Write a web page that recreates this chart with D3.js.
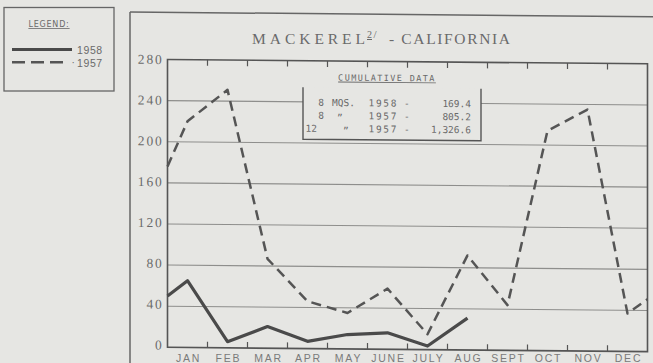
<!DOCTYPE html>
<html>
<head>
<meta charset="utf-8">
<script src="https://cdn.jsdelivr.net/npm/d3@7"></script>
<style>
  html, body { margin: 0; padding: 0; background: #e6e6e3; }
  svg { display: block; }
</style>
</head>
<body>
<svg id="chart" width="653" height="363"></svg>
<script>
// Monthly mackerel landings, California
const months = ["JAN", "FEB", "MAR", "APR", "MAY", "JUNE", "JULY", "AUG", "SEPT", "OCT", "NOV", "DEC"];
const yTicks = [0, 40, 80, 120, 160, 200, 240, 280];
const gridTicks = [40, 80, 120, 160, 200, 240];

// 1958 (Jan-Aug), with the carry-in value drawn at the left edge
const start1958 = 50;
const catch1958 = [65, 6, 21, 7, 14, 16, 3.5, 31];

// 1957 (Jan-Dec), with carry-in and carry-out values at the edges
const start1957 = 176;
const catch1957 = [220, 251, 87, 46, 35, 59, 15, 92, 44, 214, 235, 37];
const end1957 = 51;

const legendItems = ["1958", "1957"];
const cumulativeRows = [
  { count: "8", mark: "MQS.", year: "1958", total: "169.4" },
  { count: "8", mark: "\u201D", year: "1957", total: "805.2" },
  { count: "12", mark: "\u201D", year: "1957", total: "1,326.6" }
];

const ink = "#555555";
const textInk = "#6a6a6a";
const gridInk = "#8e8e8c";
const bg = "#e6e6e3";

const svg = d3.select("#chart");

// Plot geometry
const pL = 167.5, pR = 647.5, pT = 59.5, pB = 347.3;
const x = d3.scaleLinear().domain([0, 12]).range([pL, pR]);
const y = d3.scaleLinear().domain([0, 280]).range([pB, pT]);

// Outer sheet frame
svg.append("line").attr("x1", 130).attr("y1", 12).attr("x2", 653).attr("y2", 16.7)
  .attr("stroke", "#666").attr("stroke-width", 1.5);
svg.append("line").attr("x1", 130).attr("y1", 12).attr("x2", 130).attr("y2", 363)
  .attr("stroke", "#666").attr("stroke-width", 1.5);

// Legend box
const lg = svg.append("g");
lg.append("rect").attr("x", 4).attr("y", 7.5).attr("width", 110).attr("height", 83.5)
  .attr("fill", "none").attr("stroke", "#666").attr("stroke-width", 1.3);
lg.append("text").attr("x", 49).attr("y", 27)
  .attr("text-anchor", "middle").attr("font-family", "DejaVu Sans, sans-serif")
  .attr("font-size", 8).attr("letter-spacing", 0.8).attr("fill", textInk)
  .attr("text-decoration", "underline").text("LEGEND:");
lg.append("line").attr("x1", 12).attr("x2", 72).attr("y1", 49.5).attr("y2", 49.5)
  .attr("stroke", "#4a4a4a").attr("stroke-width", 3);
lg.append("line").attr("x1", 12).attr("x2", 66).attr("y1", 62.3).attr("y2", 62.3)
  .attr("stroke", ink).attr("stroke-width", 2.4).attr("stroke-dasharray", "13,6");
lg.selectAll("text.item").data(legendItems).join("text")
  .attr("class", "item")
  .attr("x", 77).attr("y", (d, i) => 54 + i * 12.5)
  .attr("font-family", "Liberation Sans, Arial, sans-serif")
  .attr("font-size", 10.5).attr("letter-spacing", 0.6).attr("fill", textInk)
  .text(d => d);
lg.append("text").attr("x", 71.5).attr("y", 66).attr("font-size", 10)
  .attr("fill", textInk).attr("font-family", "Liberation Sans, sans-serif").text("\u00B7");

// Title
const title = svg.append("g").attr("fill", textInk).attr("font-family", "Liberation Serif, serif");
title.append("text").attr("x", 252).attr("y", 43.5).attr("font-size", 15.5)
  .attr("textLength", 113).attr("lengthAdjust", "spacing").text("MACKEREL");
title.append("text").attr("x", 367).attr("y", 38).attr("font-size", 10)
  .attr("text-decoration", "underline").text("2");
title.append("text").attr("x", 373.5).attr("y", 38).attr("font-size", 11).text("/");
title.append("text").attr("x", 389).attr("y", 43.5).attr("font-size", 15.5)
  .attr("textLength", 121).attr("lengthAdjust", "spacing").text("- CALIFORNIA");

// The printed grid leans slightly downward to the right
const k = 0.009;
const plot = svg.append("g")
  .attr("transform", `matrix(1, ${k}, 0, 1, 0, ${-k * pL})`);

// Horizontal grid
plot.append("g").selectAll("line").data(gridTicks).join("line")
  .attr("x1", pL).attr("x2", pR)
  .attr("y1", d => y(d)).attr("y2", d => y(d))
  .attr("stroke", gridInk).attr("stroke-width", 1.1);

// Month boundary ticks, top and bottom
const bounds = d3.range(1, 12);
plot.append("g").selectAll("line").data(bounds).join("line")
  .attr("x1", d => x(d)).attr("x2", d => x(d))
  .attr("y1", pT).attr("y2", pT + 6)
  .attr("stroke", ink).attr("stroke-width", 1.2);
plot.append("g").selectAll("line").data(bounds).join("line")
  .attr("x1", d => x(d)).attr("x2", d => x(d))
  .attr("y1", pB).attr("y2", pB - 6)
  .attr("stroke", ink).attr("stroke-width", 1.2);

// Plot frame
plot.append("rect").attr("x", pL).attr("y", pT)
  .attr("width", pR - pL).attr("height", pB - pT)
  .attr("fill", "none").attr("stroke", ink).attr("stroke-width", 1.6);

// Y labels
plot.append("g").selectAll("text").data(yTicks).join("text")
  .attr("x", 163.5).attr("y", d => y(d) + 4.5 - (280 - d) * 0.008)
  .attr("text-anchor", "end")
  .attr("font-family", "Liberation Serif, serif").attr("font-size", 13.5)
  .attr("letter-spacing", 1.8).attr("fill", textInk)
  .text(d => d);

// Month labels along the bottom edge (unskewed so the row stays inside the sheet)
svg.append("g").selectAll("text").data(months).join("text")
  .attr("x", (d, i) => x(i + 0.5) + 1).attr("y", 361.5)
  .attr("text-anchor", "middle")
  .attr("font-family", "Liberation Sans, Arial, sans-serif").attr("font-size", 10.5)
  .attr("letter-spacing", 1.8).attr("fill", "#7a7a7a")
  .text(d => d);

// Cumulative data note
const note = plot.append("g").attr("font-family", "DejaVu Sans Mono, monospace")
  .attr("font-size", 9.5).attr("fill", textInk);
note.append("rect").attr("x", 303).attr("y", 86).attr("width", 178).attr("height", 52)
  .attr("fill", bg);
note.append("path").attr("d", "M303,86V138H481V86")
  .attr("fill", "none").attr("stroke", ink).attr("stroke-width", 1.4);
note.append("text").attr("x", 387).attr("y", 79)
  .attr("text-anchor", "middle").attr("font-size", 8.5).attr("letter-spacing", 1.4)
  .attr("text-decoration", "underline").text("CUMULATIVE DATA");
const rows = note.selectAll("g.row").data(cumulativeRows).join("g")
  .attr("class", "row")
  .attr("transform", (d, i) => `translate(0, ${104.5 + i * 13})`);
rows.append("text").attr("x", (d, i) => i === 2 ? 317 : 324).attr("text-anchor", "end").text(d => d.count);
rows.append("text").attr("x", (d, i) => i === 0 ? 332 : (i === 1 ? 337 : 343))
  .attr("dy", (d, i) => i === 0 ? 0 : 2)
  .text(d => d.mark);
rows.append("text").attr("x", 368.5).attr("textLength", 28).text(d => d.year);
rows.append("text").attr("x", 404).text("-");
rows.append("text").attr("x", 471).attr("text-anchor", "end").text(d => d.total);

// Series lines
const line = d3.line().x(d => x(d.m)).y(d => y(d.v));
const pts1957 = [{ m: 0, v: start1957 }]
  .concat(catch1957.map((v, i) => ({ m: i + 0.5, v })))
  .concat([{ m: 12, v: end1957 }]);
const pts1958 = [{ m: 0, v: start1958 }]
  .concat(catch1958.map((v, i) => ({ m: i + 0.5, v })));

plot.append("path").datum(pts1957).attr("d", line)
  .attr("fill", "none").attr("stroke", ink).attr("stroke-width", 2.5)
  .attr("stroke-dasharray", "10,6").attr("stroke-linejoin", "round");
plot.append("path").datum(pts1958).attr("d", line)
  .attr("fill", "none").attr("stroke", "#4a4a4a").attr("stroke-width", 3.2)
  .attr("stroke-linejoin", "round");
</script>
</body>
</html>
